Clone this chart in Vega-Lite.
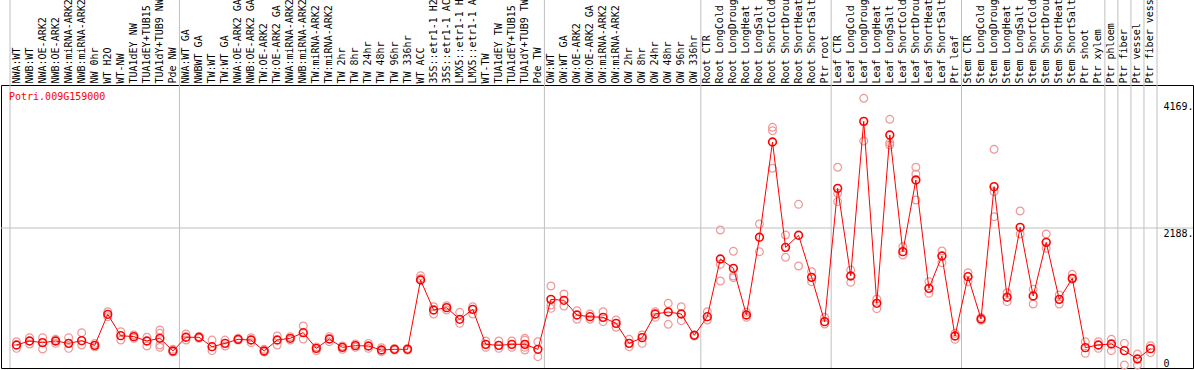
{
"$schema": "https://vega.github.io/schema/vega-lite/v6.json",
"autosize": {"type": "none"},
"padding": {"left": 1, "right": 1, "top": 85, "bottom": 2},
"width": 1192,
"height": 283,
"config": {"view": {"stroke": "#000000", "strokeWidth": 1}, "font": "DejaVu Sans Mono"},
"datasets": {
"means": [
{"s":"NWA:WT","v":360},{"s":"NWB:WT","v":422},{"s":"NWA:OE-ARK2","v":396},{"s":"NWB:OE-ARK2","v":422},{"s":"NWA:miRNA-ARK2","v":385},{"s":"NWB:miRNA-ARK2","v":427},{"s":"NW 0hr","v":354},{"s":"WT H2O","v":839},{"s":"WT-NW","v":505},{"s":"TUA1dEY NW","v":490},{"s":"TUA1dEY+TUB15 NW","v":422},{"s":"TUA1dY+TUB9 NW","v":464},{"s":"Pde NW","v":266},
{"s":"NWA:WT GA","v":480},{"s":"NWBWT GA","v":480},{"s":"TW:WT","v":333},{"s":"TW:WT GA","v":385},{"s":"NWA:OE-ARK2 GA","v":448},{"s":"NWB:OE-ARK2 GA","v":437},{"s":"TW:OE-ARK2","v":266},{"s":"TW:OE-ARK2 GA","v":437},{"s":"NWA:miRNA-ARK2 GA","v":464},{"s":"NWB:miRNA-ARK2 GA","v":552},{"s":"TW:miRNA-ARK2","v":307},{"s":"TW:miRNA-ARK2 GA","v":453},{"s":"TW 2hr","v":323},{"s":"TW 8hr","v":349},{"s":"TW 24hr","v":344},{"s":"TW 48hr","v":281},{"s":"TW 96hr","v":292},{"s":"TW 336hr","v":292},{"s":"WT ACC","v":1375},{"s":"35S::etr1-1 H2O","v":906},{"s":"35S::etr1-1 ACC","v":943},{"s":"LMX5::etr1-1 H2O","v":761},{"s":"LMX5::etr1-1 ACC","v":917},{"s":"WT-TW","v":370},{"s":"TUA1dEY TW","v":354},{"s":"TUA1dEY+TUB15 TW","v":370},{"s":"TUA1dY+TUB9 TW","v":370},{"s":"Pde TW","v":292},
{"s":"OW:WT","v":1073},{"s":"OW:WT GA","v":1058},{"s":"OW:OE-ARK2","v":828},{"s":"OW:OE-ARK2 GA","v":802},{"s":"OW:miRNA-ARK2","v":792},{"s":"OW:miRNA-ARK2 GA","v":698},{"s":"OW 2hr","v":385},{"s":"OW 8hr","v":474},{"s":"OW 24hr","v":844},{"s":"OW 48hr","v":875},{"s":"OW 96hr","v":844},{"s":"OW 336hr","v":511},
{"s":"Root CTR","v":802},{"s":"Root LongCold","v":1704},{"s":"Root LongDrought","v":1558},{"s":"Root LongHeat","v":828},{"s":"Root LongSalt","v":2043},{"s":"Root ShortCold","v":3532},{"s":"Root ShortDrought","v":1886},{"s":"Root ShortHeat","v":2074},{"s":"Root ShortSalt","v":1417},{"s":"Ptr root","v":724},
{"s":"Leaf CTR","v":2808},{"s":"Leaf LongCold","v":1438},{"s":"Leaf LongDrought","v":3855},{"s":"Leaf LongHeat","v":1011},{"s":"Leaf LongSalt","v":3642},{"s":"Leaf ShortCold","v":1818},{"s":"Leaf ShortDrought","v":2938},{"s":"Leaf ShortHeat","v":1245},{"s":"Leaf ShortSalt","v":1750},{"s":"Ptr leaf","v":500},
{"s":"Stem CTR","v":1427},{"s":"Stem LongCold","v":766},{"s":"Stem LongDrought","v":2834},{"s":"Stem LongHeat","v":1105},{"s":"Stem LongSalt","v":2199},{"s":"Stem ShortCold","v":1125},{"s":"Stem ShortDrought","v":1964},{"s":"Stem ShortHeat","v":1073},{"s":"Stem ShortSalt","v":1401},{"s":"Ptr shoot","v":318},{"s":"Ptr xylem","v":360},
{"s":"Ptr phloem","v":375},{"s":"Ptr fiber","v":271},{"s":"Ptr vessel","v":141},{"s":"Ptr fiber vessel","v":302}
],
"reps": [
{"s":"NWA:WT","v":411},{"s":"NWA:WT","v":307},{"s":"NWB:WT","v":474},{"s":"NWB:WT","v":375},{"s":"NWA:OE-ARK2","v":474},{"s":"NWA:OE-ARK2","v":297},{"s":"NWB:OE-ARK2","v":448},{"s":"NWB:OE-ARK2","v":385},{"s":"NWA:miRNA-ARK2","v":474},{"s":"NWA:miRNA-ARK2","v":307},{"s":"NWB:miRNA-ARK2","v":552},{"s":"NWB:miRNA-ARK2","v":359},{"s":"NW 0hr","v":385},{"s":"NW 0hr","v":330},{"s":"WT H2O","v":880},{"s":"WT H2O","v":802},{"s":"WT-NW","v":568},{"s":"WT-NW","v":437},{"s":"TUA1dEY NW","v":516},{"s":"TUA1dEY NW","v":464},{"s":"TUA1dEY+TUB15 NW","v":480},{"s":"TUA1dEY+TUB15 NW","v":344},{"s":"TUA1dY+TUB9 NW","v":594},{"s":"TUA1dY+TUB9 NW","v":542},{"s":"TUA1dY+TUB9 NW","v":359},{"s":"TUA1dY+TUB9 NW","v":323},{"s":"Pde NW","v":292},{"s":"Pde NW","v":250},
{"s":"NWA:WT GA","v":531},{"s":"NWA:WT GA","v":437},{"s":"NWBWT GA","v":490},{"s":"NWBWT GA","v":464},{"s":"TW:WT","v":437},{"s":"TW:WT","v":271},{"s":"TW:WT GA","v":437},{"s":"TW:WT GA","v":344},{"s":"NWA:OE-ARK2 GA","v":464},{"s":"NWA:OE-ARK2 GA","v":437},{"s":"NWB:OE-ARK2 GA","v":474},{"s":"NWB:OE-ARK2 GA","v":396},{"s":"TW:OE-ARK2","v":292},{"s":"TW:OE-ARK2","v":250},{"s":"TW:OE-ARK2 GA","v":500},{"s":"TW:OE-ARK2 GA","v":359},{"s":"NWA:miRNA-ARK2 GA","v":490},{"s":"NWA:miRNA-ARK2 GA","v":437},{"s":"NWB:miRNA-ARK2 GA","v":656},{"s":"NWB:miRNA-ARK2 GA","v":453},{"s":"TW:miRNA-ARK2","v":271},{"s":"TW:miRNA-ARK2","v":330},{"s":"TW:miRNA-ARK2 GA","v":490},{"s":"TW:miRNA-ARK2 GA","v":411},{"s":"TW 2hr","v":344},{"s":"TW 2hr","v":292},{"s":"TW 8hr","v":375},{"s":"TW 8hr","v":323},{"s":"TW 24hr","v":385},{"s":"TW 24hr","v":307},{"s":"TW 48hr","v":318},{"s":"TW 48hr","v":255},{"s":"TW 96hr","v":307},{"s":"TW 96hr","v":281},{"s":"TW 336hr","v":307},{"s":"TW 336hr","v":281},{"s":"WT ACC","v":1443},{"s":"WT ACC","v":1401},{"s":"35S::etr1-1 H2O","v":958},{"s":"35S::etr1-1 H2O","v":844},{"s":"35S::etr1-1 ACC","v":974},{"s":"35S::etr1-1 ACC","v":906},{"s":"LMX5::etr1-1 H2O","v":870},{"s":"LMX5::etr1-1 H2O","v":698},{"s":"LMX5::etr1-1 ACC","v":958},{"s":"LMX5::etr1-1 ACC","v":844},{"s":"WT-TW","v":422},{"s":"WT-TW","v":323},{"s":"TUA1dEY TW","v":422},{"s":"TUA1dEY TW","v":307},{"s":"TUA1dEY+TUB15 TW","v":422},{"s":"TUA1dEY+TUB15 TW","v":323},{"s":"TUA1dY+TUB9 TW","v":464},{"s":"TUA1dY+TUB9 TW","v":437},{"s":"TUA1dY+TUB9 TW","v":323},{"s":"TUA1dY+TUB9 TW","v":281},{"s":"Pde TW","v":411},{"s":"Pde TW","v":177},
{"s":"OW:WT","v":1282},{"s":"OW:WT","v":985},{"s":"OW:WT","v":932},{"s":"OW:WT GA","v":1157},{"s":"OW:WT GA","v":969},{"s":"OW:OE-ARK2","v":896},{"s":"OW:OE-ARK2","v":761},{"s":"OW:OE-ARK2 GA","v":844},{"s":"OW:OE-ARK2 GA","v":761},{"s":"OW:miRNA-ARK2","v":880},{"s":"OW:miRNA-ARK2","v":724},{"s":"OW:miRNA-ARK2 GA","v":750},{"s":"OW:miRNA-ARK2 GA","v":636},{"s":"OW 2hr","v":448},{"s":"OW 2hr","v":333},{"s":"OW 8hr","v":516},{"s":"OW 8hr","v":385},{"s":"OW 24hr","v":880},{"s":"OW 24hr","v":792},{"s":"OW 48hr","v":1011},{"s":"OW 48hr","v":683},{"s":"OW 96hr","v":958},{"s":"OW 96hr","v":740},{"s":"OW 336hr","v":500},{"s":"OW 336hr","v":520},
{"s":"Root CTR","v":880},{"s":"Root CTR","v":750},{"s":"Root LongCold","v":2157},{"s":"Root LongCold","v":1620},{"s":"Root LongCold","v":1360},{"s":"Root LongDrought","v":1824},{"s":"Root LongDrought","v":1438},{"s":"Root LongDrought","v":1412},{"s":"Root LongHeat","v":870},{"s":"Root LongHeat","v":792},{"s":"Root LongSalt","v":2251},{"s":"Root LongSalt","v":1818},{"s":"Root ShortCold","v":3762},{"s":"Root ShortCold","v":3709},{"s":"Root ShortCold","v":3121},{"s":"Root ShortDrought","v":2079},{"s":"Root ShortDrought","v":1730},{"s":"Root ShortHeat","v":2558},{"s":"Root ShortHeat","v":1594},{"s":"Root ShortSalt","v":1505},{"s":"Root ShortSalt","v":1349},{"s":"Ptr root","v":792},{"s":"Ptr root","v":688},
{"s":"Leaf CTR","v":3137},{"s":"Leaf CTR","v":2730},{"s":"Leaf CTR","v":2600},{"s":"Leaf LongCold","v":1532},{"s":"Leaf LongCold","v":1339},{"s":"Leaf LongDrought","v":4215},{"s":"Leaf LongDrought","v":3548},{"s":"Leaf LongHeat","v":1078},{"s":"Leaf LongHeat","v":927},{"s":"Leaf LongSalt","v":3887},{"s":"Leaf LongSalt","v":3522},{"s":"Leaf LongSalt","v":3485},{"s":"Leaf ShortCold","v":1896},{"s":"Leaf ShortCold","v":1766},{"s":"Leaf ShortDrought","v":3137},{"s":"Leaf ShortDrought","v":3032},{"s":"Leaf ShortDrought","v":2626},{"s":"Leaf ShortHeat","v":1349},{"s":"Leaf ShortHeat","v":1167},{"s":"Leaf ShortSalt","v":1829},{"s":"Leaf ShortSalt","v":1646},{"s":"Ptr leaf","v":542},{"s":"Ptr leaf","v":448},
{"s":"Stem CTR","v":1490},{"s":"Stem CTR","v":1349},{"s":"Stem LongCold","v":790},{"s":"Stem LongCold","v":745},{"s":"Stem LongDrought","v":3418},{"s":"Stem LongDrought","v":2756},{"s":"Stem LongDrought","v":2365},{"s":"Stem LongHeat","v":1177},{"s":"Stem LongHeat","v":1037},{"s":"Stem LongSalt","v":2454},{"s":"Stem LongSalt","v":2094},{"s":"Stem ShortCold","v":1230},{"s":"Stem ShortCold","v":1000},{"s":"Stem ShortDrought","v":2094},{"s":"Stem ShortDrought","v":1871},{"s":"Stem ShortHeat","v":1141},{"s":"Stem ShortHeat","v":1000},{"s":"Stem ShortSalt","v":1464},{"s":"Stem ShortSalt","v":1386},{"s":"Ptr shoot","v":411},{"s":"Ptr shoot","v":229},{"s":"Ptr xylem","v":411},{"s":"Ptr xylem","v":307},
{"s":"Ptr phloem","v":448},{"s":"Ptr phloem","v":271},{"s":"Ptr fiber","v":385},{"s":"Ptr fiber","v":47},{"s":"Ptr vessel","v":219},{"s":"Ptr vessel","v":47},{"s":"Ptr fiber vessel","v":349},{"s":"Ptr fiber vessel","v":240}
],
"seps": [
{"s":"NWA:WT"},{"s":"NWA:WT GA"},{"s":"OW:WT"},{"s":"Root CTR"},{"s":"Leaf CTR"},{"s":"Stem CTR"},{"s":"Ptr phloem"},{"s":"Ptr fiber"},{"s":"Ptr vessel"},{"s":"Ptr fiber vessel"}
]
},
"layer": [
{
"data": {"name": "seps"},
"mark": {"type": "rule", "color": "#c0c0c0", "strokeWidth": 1},
"encoding": {
"x": {"field": "s", "type": "nominal", "bandPosition": 0, "title": null},
"y": {"datum": 5800, "type": "quantitative", "title": null},
"y2": {"datum": 0}
}
},
{
"data": {"values": [{"s": "Ptr fiber vessel"}]},
"mark": {"type": "rule", "color": "#c0c0c0", "strokeWidth": 1},
"encoding": {
"x": {"field": "s", "type": "nominal", "bandPosition": 1, "title": null},
"y": {"datum": 5800, "type": "quantitative", "title": null},
"y2": {"datum": 0}
}
},
{
"data": {"values": [{"g": 2188}]},
"mark": {"type": "rule", "color": "#c0c0c0", "strokeWidth": 1},
"encoding": {
"y": {"field": "g", "type": "quantitative", "title": null}
}
},
{
"data": {"name": "reps"},
"mark": {"type": "point", "shape": "circle", "filled": false, "stroke": "#f09898", "strokeWidth": 1.2, "size": 60, "opacity": 1},
"encoding": {
"x": {"field": "s", "type": "nominal", "title": null},
"y": {"field": "v", "type": "quantitative", "title": null}
}
},
{
"data": {"name": "means"},
"mark": {"type": "line", "color": "#ff0000", "strokeWidth": 1},
"encoding": {
"x": {
"field": "s", "type": "nominal", "sort": null, "title": null,
"scale": {
"type": "band", "paddingInner": 0, "paddingOuter": 0, "range": [9, 1156],
"domain": ["NWA:WT","NWB:WT","NWA:OE-ARK2","NWB:OE-ARK2","NWA:miRNA-ARK2","NWB:miRNA-ARK2","NW 0hr","WT H2O","WT-NW","TUA1dEY NW","TUA1dEY+TUB15 NW","TUA1dY+TUB9 NW","Pde NW","NWA:WT GA","NWBWT GA","TW:WT","TW:WT GA","NWA:OE-ARK2 GA","NWB:OE-ARK2 GA","TW:OE-ARK2","TW:OE-ARK2 GA","NWA:miRNA-ARK2 GA","NWB:miRNA-ARK2 GA","TW:miRNA-ARK2","TW:miRNA-ARK2 GA","TW 2hr","TW 8hr","TW 24hr","TW 48hr","TW 96hr","TW 336hr","WT ACC","35S::etr1-1 H2O","35S::etr1-1 ACC","LMX5::etr1-1 H2O","LMX5::etr1-1 ACC","WT-TW","TUA1dEY TW","TUA1dEY+TUB15 TW","TUA1dY+TUB9 TW","Pde TW","OW:WT","OW:WT GA","OW:OE-ARK2","OW:OE-ARK2 GA","OW:miRNA-ARK2","OW:miRNA-ARK2 GA","OW 2hr","OW 8hr","OW 24hr","OW 48hr","OW 96hr","OW 336hr","Root CTR","Root LongCold","Root LongDrought","Root LongHeat","Root LongSalt","Root ShortCold","Root ShortDrought","Root ShortHeat","Root ShortSalt","Ptr root","Leaf CTR","Leaf LongCold","Leaf LongDrought","Leaf LongHeat","Leaf LongSalt","Leaf ShortCold","Leaf ShortDrought","Leaf ShortHeat","Leaf ShortSalt","Ptr leaf","Stem CTR","Stem LongCold","Stem LongDrought","Stem LongHeat","Stem LongSalt","Stem ShortCold","Stem ShortDrought","Stem ShortHeat","Stem ShortSalt","Ptr shoot","Ptr xylem","Ptr phloem","Ptr fiber","Ptr vessel","Ptr fiber vessel"]
},
"axis": {
"orient": "top", "title": null, "labelAngle": 270, "labelAlign": "left", "labelBaseline": "middle",
"labelFont": "DejaVu Sans Mono", "labelFontSize": 10, "labelColor": "#000000",
"labelPadding": 2, "ticks": false, "domain": false,
"labelOverlap": false, "labelBound": false, "labelLimit": 300, "grid": false
}
},
"y": {
"field": "v", "type": "quantitative", "title": null,
"scale": {"domain": [0, 4423], "nice": false, "zero": true},
"axis": {
"orient": "right", "title": null, "values": [0, 2188, 4169],
"labelExpr": "datum.value == 0 ? '0' : format(datum.value, 'd') + '.'",
"labelFont": "DejaVu Sans Mono", "labelFontSize": 10, "labelColor": "#000000",
"labelAlign": "left",
"labelBaseline": {"condition": {"test": "datum.value == 0", "value": "bottom"}, "value": "top"},
"labelPadding": -30, "ticks": false, "domain": false, "grid": false, "labelOverlap": false, "labelBound": false
}
}
}
},
{
"data": {"name": "means"},
"mark": {"type": "point", "shape": "circle", "filled": false, "stroke": "#ff0000", "strokeWidth": 1.6, "size": 60, "opacity": 1},
"encoding": {
"x": {"field": "s", "type": "nominal", "title": null},
"y": {"field": "v", "type": "quantitative", "title": null}
}
},
{
"data": {"values": [{"t": "Potri.009G159000"}]},
"mark": {"type": "text", "align": "left", "baseline": "middle", "color": "#ff0000", "font": "DejaVu Sans Mono", "fontSize": 10, "dx": -1},
"encoding": {
"x": {"datum": "NWA:WT", "bandPosition": 0, "title": null},
"y": {"datum": 4234, "type": "quantitative", "title": null},
"text": {"field": "t", "type": "nominal"}
}
}
]
}
